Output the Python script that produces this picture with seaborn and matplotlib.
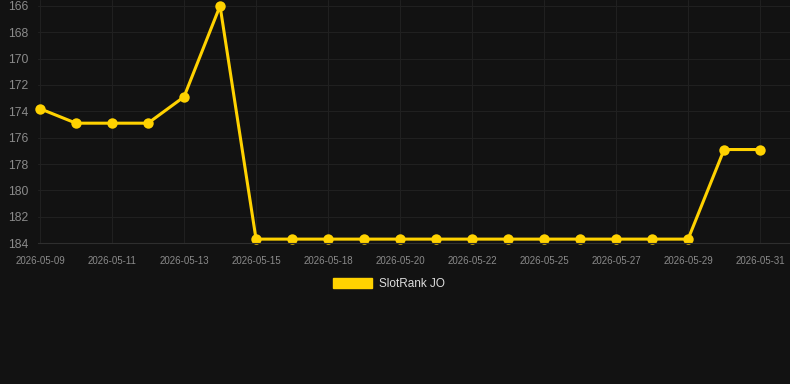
import matplotlib
matplotlib.use('Agg')
import matplotlib.pyplot as plt
import matplotlib.patches as mpatches
import pandas as pd
import numpy as np
import seaborn as sns

dates = ['2026-05-09', '2026-05-10', '2026-05-11', '2026-05-12', '2026-05-13',
         '2026-05-14', '2026-05-15', '2026-05-17', '2026-05-18', '2026-05-19',
         '2026-05-20', '2026-05-21', '2026-05-22', '2026-05-24', '2026-05-25',
         '2026-05-26', '2026-05-27', '2026-05-28', '2026-05-29', '2026-05-30',
         '2026-05-31']
rank = [173.8, 174.9, 174.9, 174.9, 172.9, 166.0,
        183.7, 183.7, 183.7, 183.7, 183.7, 183.7, 183.7,
        183.7, 183.7, 183.7, 183.7, 183.7, 183.7,
        176.9, 176.9]
series_name = 'SlotRank JO'

df = pd.DataFrame({'pos': np.arange(len(dates)), 'date': dates, 'rank': rank})

bg = '#121212'
gold = '#FFD200'

sns.set_style('dark')
plt.rcParams['font.family'] = ['Liberation Sans', 'DejaVu Sans']

fig = plt.figure(figsize=(7.9, 3.84), dpi=100, facecolor=bg)
ax = fig.add_axes([0.048, 0.367, 0.952, 0.633])
ax.set_facecolor(bg)

sns.lineplot(data=df, x='pos', y='rank', ax=ax, color=gold, linewidth=2.2,
             marker='o', markersize=7.5, markeredgewidth=0, legend=False)
# keep edge markers whole
for ln in ax.lines:
    ln.set_clip_on(False)

ax.set_ylim(184, 165.55)
ax.set_xlim(-0.058, 20.83)
ax.set_yticks(np.arange(166, 185, 2))
ax.set_xticks(df['pos'][::2])
ax.set_xticklabels(df['date'][::2])

ax.grid(True, color='#202020', linewidth=0.8)
ax.tick_params(axis='y', colors='#8a8a8a', labelsize=8.7, length=0, pad=7)
ax.tick_params(axis='x', colors='#8a8a8a', labelsize=7, length=0, pad=9)
for s in ['top', 'right', 'left']:
    ax.spines[s].set_visible(False)
ax.spines['bottom'].set_color('#2e2e2e')
ax.set_xlabel('')
ax.set_ylabel('')

handle = mpatches.Patch(color=gold, label=series_name)
fig.legend(handles=[handle], loc='center', bbox_to_anchor=(0.4925, 0.26),
           frameon=False, fontsize=8.5, labelcolor='#dddddd',
           handlelength=3.3, handleheight=0.9, handletextpad=0.6)

fig.savefig('out.png', dpi=100, facecolor=bg)
